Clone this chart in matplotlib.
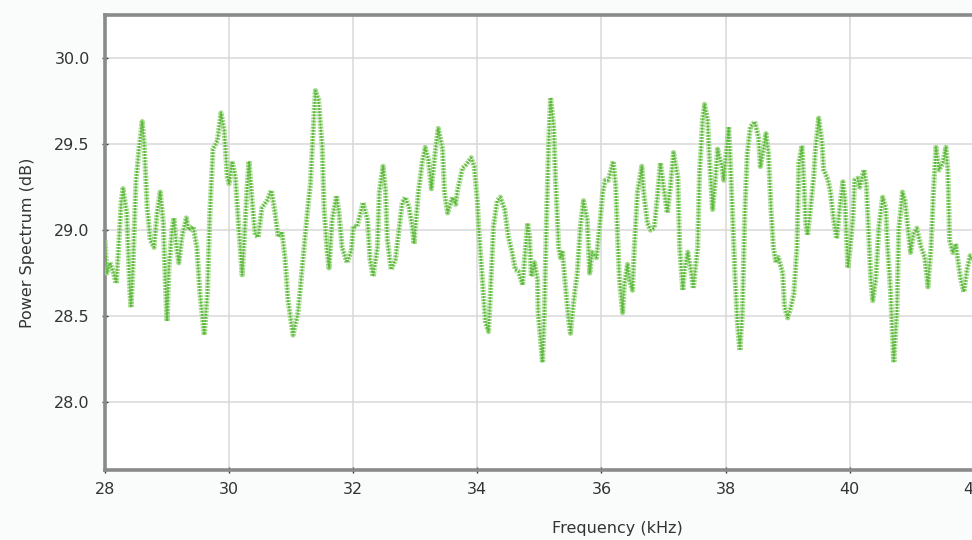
import matplotlib.pyplot as plt
from matplotlib import patheffects as pe

# spectrum trace, frequency in kHz and level in dB
freq = [28.00, 28.03, 28.08, 28.13, 28.18, 28.21, 28.26, 28.29, 28.35, 28.40,
        28.42, 28.45, 28.50, 28.55, 28.60, 28.63, 28.68, 28.73, 28.79, 28.84,
        28.89, 28.94, 28.97, 29.00, 29.03, 29.08, 29.11, 29.16, 29.19, 29.24,
        29.31, 29.35, 29.42, 29.48, 29.53, 29.60, 29.65, 29.69, 29.74, 29.81,
        29.87, 29.92, 29.97, 30.00, 30.05, 30.10, 30.15, 30.21, 30.24, 30.29,
        30.32, 30.37, 30.42, 30.47, 30.53, 30.61, 30.68, 30.74, 30.79, 30.85,
        30.90, 30.95, 31.03, 31.11, 31.19, 31.26, 31.31, 31.34, 31.39, 31.44,
        31.50, 31.53, 31.58, 31.61, 31.66, 31.73, 31.77, 31.82, 31.90, 31.97,
        32.00, 32.06, 32.16, 32.23, 32.27, 32.32, 32.39, 32.42, 32.48, 32.52,
        32.55, 32.61, 32.68, 32.73, 32.79, 32.84, 32.90, 32.95, 32.98, 33.05,
        33.11, 33.16, 33.21, 33.26, 33.32, 33.37, 33.44, 33.47, 33.52, 33.60,
        33.65, 33.68, 33.76, 33.82, 33.90, 33.95, 34.00, 34.02, 34.08, 34.13,
        34.18, 34.21, 34.26, 34.32, 34.37, 34.44, 34.50, 34.56, 34.61, 34.66,
        34.73, 34.76, 34.81, 34.84, 34.87, 34.92, 34.97, 34.98, 35.05, 35.08,
        35.11, 35.15, 35.18, 35.23, 35.26, 35.31, 35.34, 35.37, 35.40, 35.47,
        35.50, 35.55, 35.61, 35.66, 35.71, 35.77, 35.81, 35.85, 35.92, 35.98,
        36.02, 36.06, 36.11, 36.19, 36.23, 36.26, 36.29, 36.34, 36.37, 36.42,
        36.45, 36.50, 36.53, 36.58, 36.65, 36.68, 36.74, 36.79, 36.85, 36.90,
        36.95, 37.00, 37.06, 37.11, 37.16, 37.23, 37.26, 37.31, 37.34, 37.39,
        37.44, 37.48, 37.55, 37.58, 37.63, 37.66, 37.71, 37.74, 37.79, 37.84,
        37.87, 37.94, 37.97, 38.05, 38.08, 38.11, 38.15, 38.19, 38.23, 38.27,
        38.31, 38.35, 38.40, 38.47, 38.53, 38.56, 38.61, 38.65, 38.69, 38.73,
        38.77, 38.81, 38.85, 38.92, 38.95, 39.00, 39.05, 39.10, 39.15, 39.18,
        39.23, 39.26, 39.29, 39.32, 39.37, 39.42, 39.45, 39.50, 39.55, 39.58,
        39.65, 39.69, 39.74, 39.79, 39.84, 39.89, 39.92, 39.97, 40.00, 40.05,
        40.08, 40.13, 40.16, 40.23, 40.27, 40.31, 40.34, 40.37, 40.42, 40.47,
        40.53, 40.58, 40.61, 40.66, 40.69, 40.71, 40.76, 40.79, 40.85, 40.89,
        40.94, 40.98, 41.03, 41.08, 41.15, 41.21, 41.26, 41.31, 41.35, 41.39,
        41.44, 41.50, 41.55, 41.58, 41.61, 41.66, 41.71, 41.74, 41.79, 41.84,
        41.89, 41.94, 41.98, 42.05]
power = [28.94, 28.75, 28.81, 28.76, 28.69, 28.84, 29.16, 29.24, 29.10, 28.65,
         28.55, 28.78, 29.29, 29.48, 29.63, 29.51, 29.13, 28.94, 28.90, 29.10,
         29.22, 29.04, 28.71, 28.47, 28.78, 29.00, 29.07, 28.88, 28.81, 28.96,
         29.07, 29.00, 29.02, 28.90, 28.63, 28.39, 28.63, 29.10, 29.47, 29.52,
         29.68, 29.58, 29.31, 29.27, 29.40, 29.31, 29.04, 28.74, 28.92, 29.25,
         29.40, 29.17, 28.97, 28.96, 29.13, 29.17, 29.23, 29.10, 28.96, 28.99,
         28.84, 28.59, 28.39, 28.52, 28.83, 29.10, 29.27, 29.48, 29.81, 29.76,
         29.48, 29.13, 28.87, 28.78, 29.06, 29.20, 29.10, 28.90, 28.81, 28.88,
         29.02, 29.02, 29.16, 29.06, 28.83, 28.73, 28.90, 29.22, 29.37, 29.23,
         28.94, 28.77, 28.83, 28.98, 29.16, 29.19, 29.13, 29.02, 28.92, 29.22,
         29.39, 29.48, 29.41, 29.24, 29.45, 29.59, 29.47, 29.22, 29.10, 29.19,
         29.15, 29.23, 29.36, 29.38, 29.42, 29.37, 29.17, 29.02, 28.71, 28.46,
         28.41, 28.63, 29.02, 29.17, 29.19, 29.12, 28.96, 28.87, 28.77, 28.76,
         28.68, 28.83, 29.04, 28.96, 28.73, 28.81, 28.71, 28.52, 28.23, 28.52,
         29.00, 29.52, 29.77, 29.60, 29.29, 28.90, 28.84, 28.88, 28.75, 28.48,
         28.40, 28.58, 28.75, 29.02, 29.17, 29.06, 28.75, 28.87, 28.84, 29.06,
         29.22, 29.29, 29.29, 29.40, 29.25, 28.96, 28.71, 28.52, 28.69, 28.80,
         28.71, 28.65, 28.90, 29.22, 29.37, 29.22, 29.04, 29.00, 29.01, 29.19,
         29.39, 29.25, 29.10, 29.25, 29.45, 29.31, 28.90, 28.65, 28.77, 28.87,
         28.77, 28.66, 28.90, 29.33, 29.64, 29.73, 29.64, 29.41, 29.12, 29.31,
         29.47, 29.37, 29.29, 29.60, 29.37, 29.10, 28.75, 28.46, 28.30, 28.52,
         29.10, 29.45, 29.60, 29.63, 29.54, 29.37, 29.47, 29.56, 29.45, 29.13,
         28.90, 28.81, 28.84, 28.75, 28.55, 28.49, 28.55, 28.63, 28.90, 29.39,
         29.49, 29.29, 29.04, 28.97, 29.13, 29.31, 29.48, 29.65, 29.52, 29.35,
         29.29, 29.22, 29.06, 28.95, 29.13, 29.28, 29.19, 28.78, 28.87, 29.06,
         29.29, 29.30, 29.25, 29.35, 29.25, 28.94, 28.71, 28.59, 28.71, 29.02,
         29.19, 29.13, 28.90, 28.63, 28.38, 28.23, 28.52, 29.00, 29.22, 29.17,
         29.00, 28.87, 28.98, 29.01, 28.90, 28.84, 28.67, 28.90, 29.23, 29.48,
         29.35, 29.39, 29.48, 29.35, 28.94, 28.87, 28.92, 28.83, 28.71, 28.64,
         28.77, 28.85, 28.83, 28.88]

x_ticks = [28, 30, 32, 34, 36, 38, 40, 42, 44]
y_ticks = [28.0, 28.5, 29.0, 29.5, 30.0]

plt.rcParams['font.family'] = ['DejaVu Sans']

fig = plt.figure(figsize=(9.72, 5.4), dpi=100, facecolor='#fafcfc')
# plot area runs past the right edge of the image
ax = fig.add_axes([105 / 972, 70 / 540, 1024 / 972, 455 / 540])
ax.set_facecolor('white')

ax.plot(freq, power, color='#5ab83a', lw=1.4, dashes=(1.0, 0.6),
        path_effects=[pe.Stroke(linewidth=3.8, foreground='#9fd787'), pe.Normal()],
        zorder=3)

ax.set_xlim(28, 44.5)
ax.set_ylim(27.605, 30.25)
ax.set_xticks(x_ticks)
ax.set_yticks(y_ticks)
ax.set_yticklabels(['%.1f' % v for v in y_ticks])
ax.grid(True, color='#d9d9d9', lw=1.1)
ax.set_axisbelow(True)

for side in ['left', 'bottom', 'top', 'right']:
    ax.spines[side].set_color('#8a8a8a')
    ax.spines[side].set_linewidth(2.6)

ax.tick_params(direction='inout', length=4, width=1, color='#333333',
               labelsize=11.5, labelcolor='#333333')
ax.tick_params(axis='y', pad=9)
ax.tick_params(axis='x', pad=7)

ax.set_xlabel('Frequency (kHz)', fontsize=11.5, color='#333333', labelpad=17)
ax.set_ylabel('Power Spectrum (dB)', fontsize=11.5, color='#333333', labelpad=14)

fig.savefig('out.png', dpi=100, facecolor=fig.get_facecolor())
